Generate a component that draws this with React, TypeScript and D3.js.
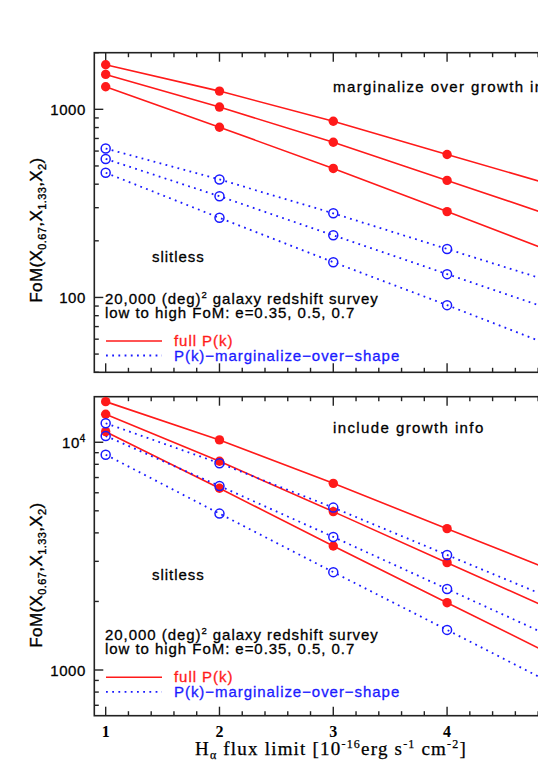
import React from "react";
import * as d3 from "d3";

const xs = [1, 2, 3, 4, 5];
// top panel: marginalize over growth info (low to high FoM: e=0.35, 0.5, 0.7)
const topFull = [
  [1319, 803, 485, 286, 168],
  [1533, 1028, 668, 419, 262],
  [1726, 1250, 864, 575, 384],
];
const topMarg = [
  [460, 265, 154, 91, 53],
  [545, 345, 214, 133, 83],
  [619, 424, 280, 181, 117],
];
// bottom panel: include growth info
const botFull = [
  [11130, 6280, 3505, 1975, 1115],
  [13270, 8250, 4960, 2960, 1770],
  [15080, 10240, 6600, 4175, 2640],
];
const botMarg = [
  [8820, 4860, 2690, 1500, 834],
  [10660, 6430, 3840, 2270, 1340],
  [12120, 8090, 5165, 3200, 1985],
];
const xTickLabels = ["1", "2", "3", "4"];
const topYMajor = [100, 1000];
const botYMajor = [1000, 10000];

const W = 538;
const H = 763;
const LEFT = 94.3;
const RED = "#ff1a1a";
const BLUE = "#1a1aff";
const SANS = "'Liberation Sans', Arial, sans-serif";
const SERIF = "'Liberation Serif', 'Times New Roman', serif";
const FS = 15;
const LS = 0.95;

const x = d3.scaleLinear().domain([0.9, 5.2]).range([LEFT, LEFT + 4.3 * 113.8]);

type PanelProps = {
  top: number;
  bottom: number;
  domain: [number, number];
  full: number[][];
  marg: number[][];
  major: number[];
  majorLabels: React.ReactNode[];
  title: string;
  id: string;
  showXLabels: boolean;
  titleY: number;
  slitY: number;
  textY: number;
  legendY: number;
  ylabelY: number;
};

function Panel(p: PanelProps) {
  const y = d3.scaleLog().domain(p.domain).range([p.bottom, p.top]);
  const line = d3
    .line<number>()
    .x((_, i) => x(xs[i]))
    .y((v) => y(v));
  const minorX = d3.range(1, 5.21, 0.2).filter((v) => Math.abs(v - Math.round(v)) > 0.01);
  const majorX = [1, 2, 3, 4, 5];
  const [lo, hi] = p.domain;
  const minorY: number[] = [];
  for (let dec = 10; dec <= 100000; dec *= 10) {
    for (let k = 1; k < 10; k++) {
      const v = k * dec;
      if (k !== 1 && v >= lo && v <= hi) minorY.push(v);
    }
  }
  const tick = "#222";
  const right = W + 60;
  const txt = { fontFamily: SANS, fontSize: FS, letterSpacing: LS } as const;
  return (
    <g>
      <defs>
        <clipPath id={p.id}>
          <rect x={LEFT} y={p.top} width={right - LEFT} height={p.bottom - p.top} />
        </clipPath>
      </defs>
      {majorX.map((v) => (
        <g key={"mx" + v}>
          <line x1={x(v)} x2={x(v)} y1={p.bottom} y2={p.bottom - 9} stroke={tick} strokeWidth={1.4} />
          <line x1={x(v)} x2={x(v)} y1={p.top} y2={p.top + 9} stroke={tick} strokeWidth={1.4} />
        </g>
      ))}
      {minorX.map((v) => (
        <g key={"nx" + v}>
          <line x1={x(v)} x2={x(v)} y1={p.bottom} y2={p.bottom - 4.5} stroke={tick} strokeWidth={1.4} />
          <line x1={x(v)} x2={x(v)} y1={p.top} y2={p.top + 4.5} stroke={tick} strokeWidth={1.4} />
        </g>
      ))}
      {p.major.map((v) => (
        <line key={"my" + v} x1={LEFT} x2={LEFT + 9} y1={y(v)} y2={y(v)} stroke={tick} strokeWidth={1.4} />
      ))}
      {minorY.map((v) => (
        <line key={"ny" + v} x1={LEFT} x2={LEFT + 4.5} y1={y(v)} y2={y(v)} stroke={tick} strokeWidth={1.4} />
      ))}
      <rect x={LEFT} y={p.top} width={right - LEFT} height={p.bottom - p.top} fill="none" stroke={tick} strokeWidth={1.6} />
      {p.major.map((v, i) => (
        <text key={"yl" + v} x={86} y={y(v) + 5.5} textAnchor="end" fontFamily={SANS} fontSize={15} letterSpacing={0.6} fill="#000" stroke="#000" strokeWidth={0.3}>
          {p.majorLabels[i]}
        </text>
      ))}
      <g clipPath={`url(#${p.id})`}>
        {p.full.map((s, i) => (
          <path key={"fl" + i} d={line(s) || ""} fill="none" stroke={RED} strokeWidth={1.6} />
        ))}
        {p.marg.map((s, i) => (
          <path key={"ml" + i} d={line(s) || ""} fill="none" stroke={BLUE} strokeWidth={1.8} strokeDasharray="1.8 4.4" />
        ))}
        {p.full.map((s, i) =>
          s.map((v, j) => <circle key={`fc${i}-${j}`} cx={x(xs[j])} cy={y(v)} r={4.7} fill={RED} />)
        )}
        {p.marg.map((s, i) =>
          s.map((v, j) => (
            <circle key={`mc${i}-${j}`} cx={x(xs[j])} cy={y(v)} r={4.5} fill="none" stroke={BLUE} strokeWidth={1.5} />
          ))
        )}
      </g>
      <text x={333} y={p.titleY} fontFamily={SANS} fontSize={FS} letterSpacing={1.4} fill="#000" stroke="#000" strokeWidth={0.3}>
        {p.title}
      </text>
      <text x={152} y={p.slitY} {...txt} fill="#000" stroke="#000" strokeWidth={0.3}>
        slitless
      </text>
      <text x={105} y={p.textY} {...txt} fill="#000" stroke="#000" strokeWidth={0.3}>
        20,000 (deg)<tspan fontSize={9.5} dy={-6}>2</tspan>
        <tspan dy={6}> galaxy redshift survey</tspan>
      </text>
      <text x={105} y={p.textY + 13.5} {...txt} fill="#000" stroke="#000" strokeWidth={0.3}>
        low to high FoM: e=0.35, 0.5, 0.7
      </text>
      <line x1={106} x2={162} y1={p.legendY} y2={p.legendY} stroke={RED} strokeWidth={1.6} />
      <text x={174} y={p.legendY + 5} {...txt} fill={RED} stroke={RED} strokeWidth={0.3}>
        full P(k)
      </text>
      <line x1={106} x2={162} y1={p.legendY + 14.5} y2={p.legendY + 14.5} stroke={BLUE} strokeWidth={1.8} strokeDasharray="1.8 4.4" />
      <text x={174} y={p.legendY + 19.5} {...txt} fill={BLUE} stroke={BLUE} strokeWidth={0.3}>
        P(k)−marginalize−over−shape
      </text>
      <text
        transform={`translate(42, ${p.ylabelY}) rotate(-90)`}
        textAnchor="middle"
        fontFamily={SANS}
        fontSize={17}
        letterSpacing={0.4}
        fill="#000"
        stroke="#000"
        strokeWidth={0.35}
      >
        FoM(X<tspan fontSize={11} dy={4}>0.67</tspan>
        <tspan dy={-4}>,X</tspan>
        <tspan fontSize={11} dy={4}>1.33</tspan>
        <tspan dy={-4}>,X</tspan>
        <tspan fontSize={11} dy={4}>2</tspan>
        <tspan dy={-4}>)</tspan>
      </text>
      {p.showXLabels &&
        xTickLabels.map((t, i) => (
          <text key={"xl" + t} x={x(i + 1)} y={737} textAnchor="middle" fontFamily={SERIF} fontSize={16} fontWeight="bold" fill="#000">
            {t}
          </text>
        ))}
    </g>
  );
}

export default function App() {
  return (
    <svg
      width={W}
      height={H}
      viewBox={`0 0 ${W} ${H}`}
      style={{ position: "absolute", left: 0, top: 0, background: "#fff", overflow: "hidden" }}
    >
      <rect x={0} y={0} width={W} height={H} fill="#fff" />
      <Panel
        id="clipTop"
        top={52.7}
        bottom={372.3}
        domain={[40, 2000]}
        full={topFull}
        marg={topMarg}
        major={topYMajor}
        majorLabels={["100", "1000"]}
        title="marginalize over growth info"
        showXLabels={false}
        titleY={91.5}
        slitY={262}
        textY={304}
        legendY={341}
        ylabelY={230}
      />
      <Panel
        id="clipBot"
        top={396.7}
        bottom={715.7}
        domain={[630, 15850]}
        full={botFull}
        marg={botMarg}
        major={botYMajor}
        majorLabels={[
          "1000",
          <tspan key="t">
            10<tspan fontSize={10} dy={-6}>4</tspan>
          </tspan>,
        ]}
        title="include growth info"
        showXLabels={true}
        titleY={432.5}
        slitY={580}
        textY={640}
        legendY={677.3}
        ylabelY={575}
      />
      <text x={331} y={755} textAnchor="middle" fontFamily={SERIF} fontSize={19} letterSpacing={1.2} fill="#000" stroke="#000" strokeWidth={0.25}>
        H<tspan fontSize={12} dy={4}>α</tspan>
        <tspan dy={-4}> flux limit [10</tspan>
        <tspan fontSize={12} dy={-7}>-16</tspan>
        <tspan dy={7}>erg s</tspan>
        <tspan fontSize={12} dy={-7}>-1</tspan>
        <tspan dy={7}> cm</tspan>
        <tspan fontSize={12} dy={-7}>-2</tspan>
        <tspan dy={7}>]</tspan>
      </text>
    </svg>
  );
}
